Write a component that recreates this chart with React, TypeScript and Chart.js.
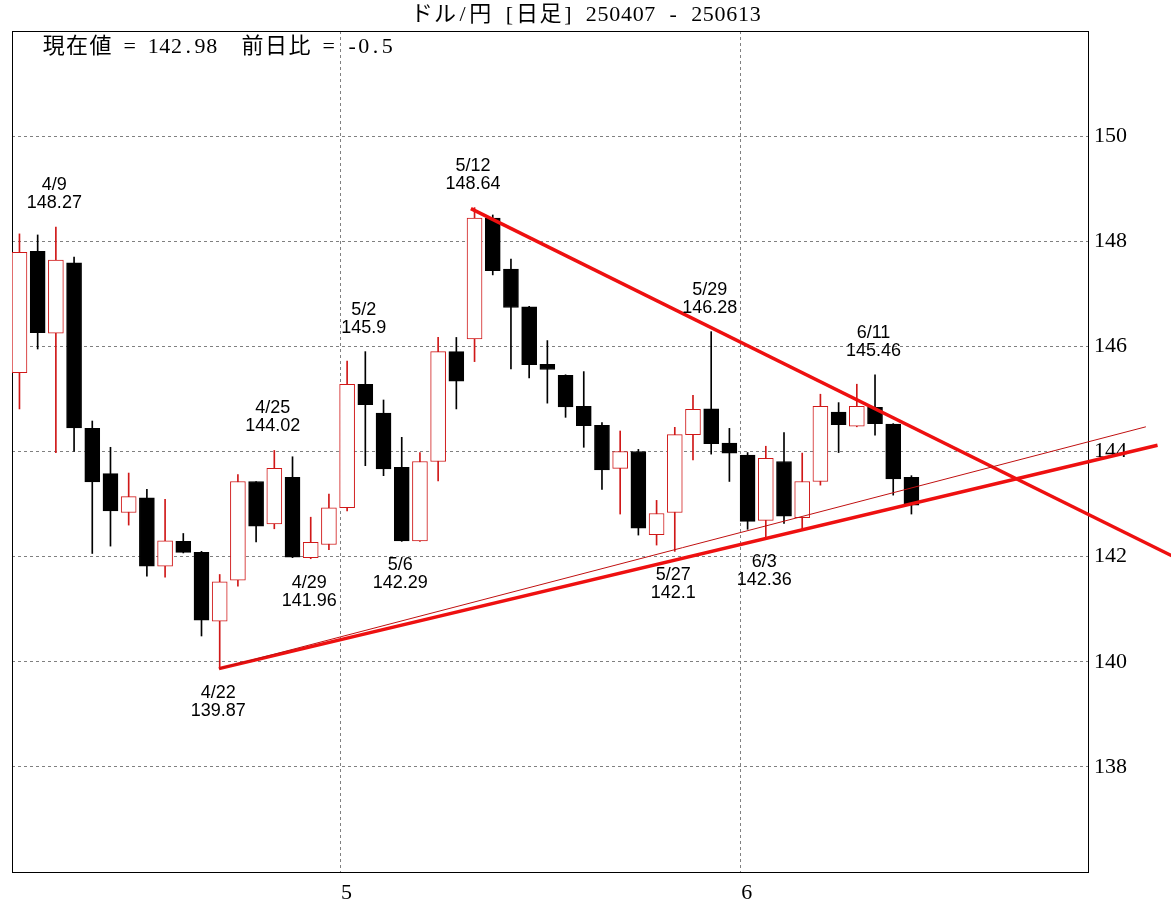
import React, { useEffect, useRef } from "react";
import { Chart, registerables } from "chart.js";

Chart.register(...registerables);

// ---- data ----
const dates = [
  "4/7", "4/8", "4/9", "4/10", "4/11",
  "4/14", "4/15", "4/16", "4/17", "4/18",
  "4/21", "4/22", "4/23", "4/24", "4/25",
  "4/28", "4/29", "4/30", "5/1", "5/2",
  "5/5", "5/6", "5/7", "5/8", "5/9",
  "5/12", "5/13", "5/14", "5/15", "5/16",
  "5/19", "5/20", "5/21", "5/22", "5/23",
  "5/26", "5/27", "5/28", "5/29", "5/30",
  "6/2", "6/3", "6/4", "6/5", "6/6",
  "6/9", "6/10", "6/11", "6/12", "6/13",
];
const openPrices = [
  145.5, 147.81, 146.25, 147.59, 144.44,
  143.58, 142.84, 143.12, 141.82, 142.29,
  142.08, 140.77, 141.55, 143.43, 142.62,
  143.51, 141.98, 142.23, 142.93, 145.28,
  144.73, 143.7, 142.3, 143.81, 145.9,
  146.14, 148.44, 147.47, 146.75, 145.66,
  145.45, 144.86, 144.5, 143.68, 144.0,
  142.42, 142.84, 144.32, 144.81, 144.16,
  143.93, 142.69, 143.81, 142.74, 143.43,
  144.75, 144.48, 144.84, 144.52, 143.51,
];
const highPrices = [
  148.14, 148.12, 148.27, 147.7, 144.58,
  144.08, 143.59, 143.28, 143.09, 142.44,
  142.1, 141.66, 143.56, 143.43, 144.02,
  143.9, 142.75, 143.19, 145.72, 145.9,
  144.98, 144.27, 143.98, 146.17, 146.17,
  148.64, 148.5, 147.66, 146.76, 146.11,
  145.46, 145.52, 144.55, 144.39, 144.04,
  143.07, 144.46, 145.07, 146.28, 144.44,
  143.98, 144.1, 144.36, 143.97, 145.09,
  144.93, 145.28, 145.46, 144.53, 143.54,
];
const lowPrices = [
  144.81, 145.95, 143.98, 144.0, 142.06,
  142.2, 142.6, 141.63, 141.61, 142.07,
  140.49, 139.87, 141.44, 142.28, 142.53,
  141.98, 141.96, 142.13, 142.87, 143.73,
  143.54, 142.29, 142.29, 143.44, 144.81,
  145.71, 147.36, 145.57, 145.4, 144.92,
  144.65, 144.08, 143.28, 142.81, 142.41,
  142.22, 142.1, 143.84, 143.95, 143.43,
  142.52, 142.36, 142.63, 142.53, 143.36,
  143.98, 144.47, 144.31, 143.17, 142.81,
];
const closePrices = [
  147.79, 146.26, 147.64, 144.45, 143.42,
  142.87, 143.14, 141.82, 142.3, 142.08,
  140.79, 141.52, 143.43, 142.58, 143.68,
  141.99, 142.27, 142.93, 145.28, 144.89,
  143.67, 142.3, 143.81, 145.9, 145.34,
  148.44, 147.44, 146.74, 145.65, 145.56,
  144.85, 144.49, 143.65, 144.0, 142.54,
  142.82, 144.32, 144.8, 144.15, 143.97,
  142.67, 143.87, 142.77, 143.43, 144.86,
  144.51, 144.86, 144.53, 143.48, 142.98,
];

const titleText = "ドル/円 [日足] 250407 - 250613";

const yTicks = [138, 140, 142, 144, 146, 148, 150];
const monthStarts = ["5/1", "6/2"];
const monthLabels = ["5", "6"];

// labelled highs / lows
const markDates = ["4/9", "4/22", "4/25", "4/29", "5/2", "5/6", "5/12", "5/27", "5/29", "6/3", "6/11"];
const markKinds = ["high", "low", "high", "low", "high", "low", "high", "low", "high", "low", "high"];

// trend lines (x = trading-day index, y = price)
const upperLineX = [24.8, 63.4];
const upperLineY = [148.62, 142.0];
const lowerLineX = [10.96, 62.52];
const lowerLineY = [139.87, 144.12];
const thinLineX = [10.96, 61.88];
const thinLineY = [139.87, 144.47];

// ---- styles ----
const RED = "#d01818";
const LINE_RED = "#ee1010";
const MONO_FONT = "22px 'Liberation Serif', 'Noto Sans CJK JP'";
const HALF = 11.7;

function drawMono(ctx: CanvasRenderingContext2D, text: string, x: number, y: number) {
  let cx = x;
  for (const ch of Array.from(text)) {
    const full = ch.charCodeAt(0) > 0x2e80;
    const w = full ? HALF * 2 : HALF;
    const m = ctx.measureText(ch).width;
    ctx.fillText(ch, cx + (w - m) / 2, y);
    cx += w;
  }
}
function monoWidth(text: string) {
  let w = 0;
  for (const ch of Array.from(text)) w += ch.charCodeAt(0) > 0x2e80 ? HALF * 2 : HALF;
  return w;
}

export default function App() {
  const ref = useRef<HTMLCanvasElement | null>(null);

  useEffect(() => {
    if (!ref.current) return;
    const n = dates.length;
    const idx = dates.map((_, i) => i);
    const bull = idx.map((i) => closePrices[i] >= openPrices[i]);
    const last = closePrices[n - 1];
    const diff = (closePrices[n - 1] - closePrices[n - 2]).toFixed(1);
    const infoText = `現在値 = ${last}  前日比 = ${diff}`;

    const overlay = {
      id: "overlay",
      beforeDatasetsDraw(chart: any) {
        const { ctx, chartArea: a } = chart;
        ctx.save();
        ctx.strokeStyle = "#000";
        ctx.lineWidth = 1;
        ctx.strokeRect(Math.round(a.left) + 0.5, Math.round(a.top) + 0.5, Math.round(a.right - a.left), Math.round(a.bottom - a.top));
        ctx.restore();
      },
      afterDatasetsDraw(chart: any) {
        const { ctx, chartArea: a, scales } = chart;
        const xs = scales.x;
        const ys = scales.y;
        ctx.save();
        ctx.fillStyle = "#000";
        ctx.font = MONO_FONT;
        ctx.textBaseline = "middle";
        ctx.textAlign = "left";
        drawMono(ctx, titleText, (chart.width - monoWidth(titleText)) / 2, 15);
        drawMono(ctx, infoText, a.left + 30, a.top + 16);

        ctx.font = "18px 'Liberation Sans', Arial, sans-serif";
        ctx.textAlign = "center";
        markDates.forEach((d, k) => {
          const i = dates.indexOf(d);
          const px = xs.getPixelForValue(i) - 1.5;
          if (markKinds[k] === "high") {
            const py = ys.getPixelForValue(highPrices[i]);
            ctx.fillText(d, px, py - 42);
            ctx.fillText(String(highPrices[i]), px, py - 24);
          } else {
            const py = ys.getPixelForValue(lowPrices[i]);
            ctx.fillText(d, px, py + 24);
            ctx.fillText(String(lowPrices[i]), px, py + 42);
          }
        });
        ctx.restore();
      },
    };

    const lineDs = (xsArr: number[], ysArr: number[], color: string, width: number) => ({
      type: "line" as const,
      data: xsArr.map((x, i) => ({ x, y: ysArr[i] })),
      borderColor: color,
      borderWidth: width,
      pointRadius: 0,
      fill: false,
      clip: false as any,
      order: -1,
      tension: 0,
    });

    const chart = new Chart(ref.current, {
      type: "bar",
      data: {
        datasets: [
          {
            type: "bar",
            data: idx.map((i) => ({ x: i, y: [lowPrices[i], highPrices[i]] })) as any,
            backgroundColor: idx.map((i) => (bull[i] ? RED : "#000")),
            borderWidth: 0,
            barThickness: 1,
            maxBarThickness: 1,
            grouped: false,
            order: 2,
          } as any,
          {
            type: "bar",
            data: idx.map((i) => ({ x: i, y: [openPrices[i], closePrices[i]] })) as any,
            backgroundColor: idx.map((i) => (bull[i] ? "#fff" : "#000")),
            borderColor: idx.map((i) => (bull[i] ? RED : "#000")),
            borderWidth: 1,
            borderSkipped: false,
            barThickness: 15,
            maxBarThickness: 15,
            grouped: false,
            order: 1,
          } as any,
          lineDs(thinLineX, thinLineY, "#c01010", 1) as any,
          lineDs(lowerLineX, lowerLineY, LINE_RED, 3.5) as any,
          lineDs(upperLineX, upperLineY, LINE_RED, 3.5) as any,
        ],
      },
      options: {
        responsive: false,
        animation: false,
        devicePixelRatio: 1,
        layout: { padding: { top: 31, left: 12, right: 0, bottom: 0 } },
        plugins: {
          legend: { display: false },
          tooltip: { enabled: false },
          title: { display: false },
        },
        scales: {
          x: {
            type: "linear",
            min: -0.41,
            max: 58.7,
            offset: false,
            afterBuildTicks: (scale: any) => {
              scale.ticks = monthStarts.map((d) => ({ value: dates.indexOf(d) - 0.37 }));
            },
            afterFit: (scale: any) => {
              scale.height = 30;
            },
            grid: { color: "#808080", lineWidth: 1, drawTicks: false, offset: false },
            border: { display: false, dash: [3, 3] },
            ticks: {
              callback: (_v: any, i: number) => monthLabels[i],
              labelOffset: 6,
              padding: 8,
              color: "#000",
              maxRotation: 0,
              autoSkip: false,
              font: { family: "'Liberation Serif'", size: 22 },
            },
          },
          y: {
            type: "linear",
            position: "right",
            min: 136,
            max: 152,
            afterBuildTicks: (scale: any) => {
              scale.ticks = yTicks.map((v) => ({ value: v }));
            },
            afterFit: (scale: any) => {
              scale.width = 83;
            },
            grid: { color: "#808080", lineWidth: 1, drawTicks: false },
            border: { display: false, dash: [3, 3] },
            ticks: {
              padding: 6,
              color: "#000",
              font: { family: "'Liberation Serif'", size: 22 },
              callback: (v: any) => String(v),
            },
          },
        },
      } as any,
      plugins: [overlay],
    });
    return () => chart.destroy();
  }, []);

  return (
    <div style={{ position: "absolute", left: 0, top: 0, width: 1171, height: 902, background: "#fff" }}>
      <canvas ref={ref} width={1171} height={902} style={{ display: "block" }} />
    </div>
  );
}
